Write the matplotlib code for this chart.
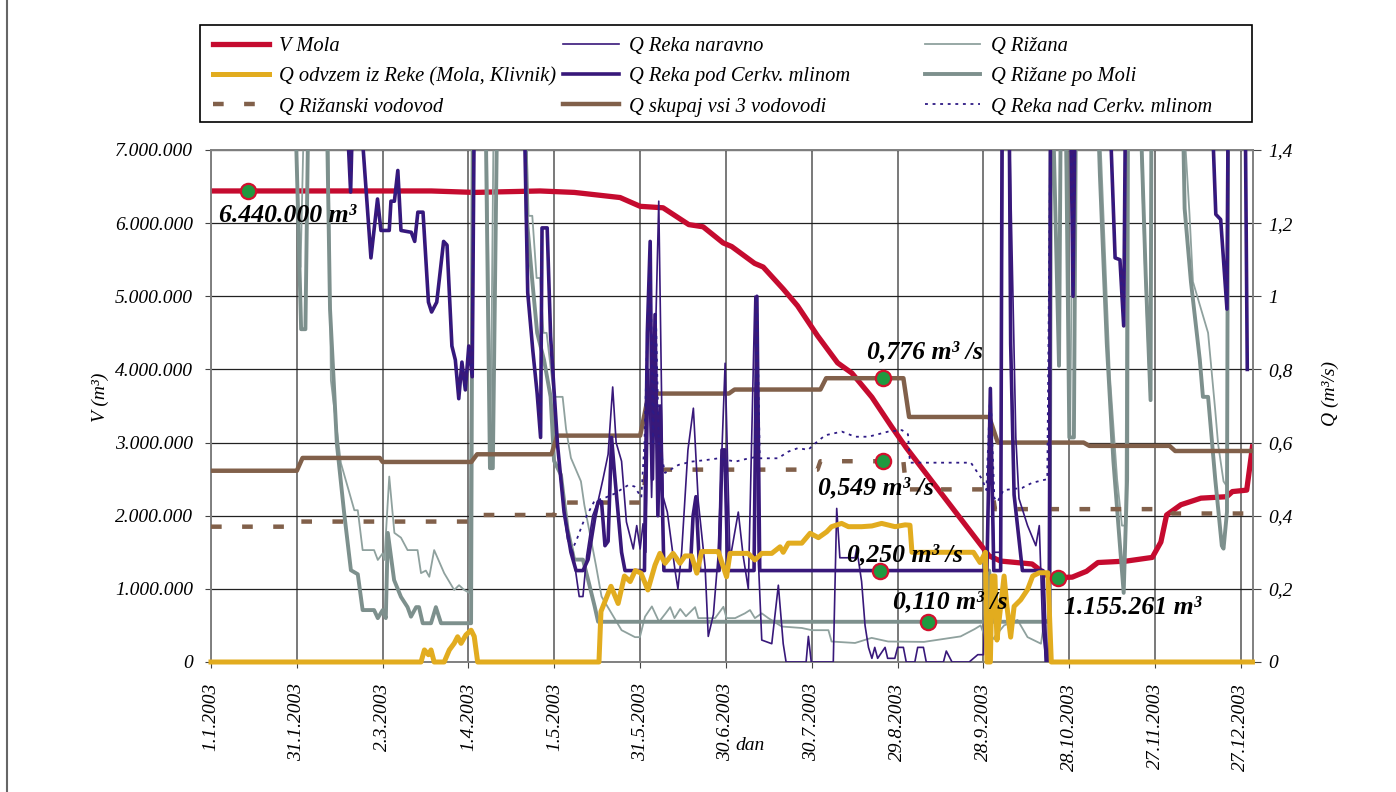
import matplotlib
matplotlib.use("Agg")
import matplotlib.pyplot as plt
from matplotlib.lines import Line2D
from matplotlib.patches import Rectangle

# --- podatki (dan v letu 2003, 0 = 1.1.2003) ---

# prostornina akumulacije Mola (m3)
v_dni = [0, 77, 92, 115, 127, 143, 150, 158, 167, 172, 179, 182, 190, 193, 200, 205, 212, 219, 224, 231,
         238, 243, 272, 276, 287, 293, 296, 301, 306, 310, 320, 329, 332, 334, 339, 346, 355, 357, 362, 364]
v_mola = [6440000, 6440000, 6420000, 6440000, 6420000, 6350000, 6230000, 6210000, 5980000, 5950000,
          5730000, 5680000, 5450000, 5400000, 5100000, 4870000, 4460000, 4090000, 3950000, 3620000,
          3210000, 2930000, 1450000, 1380000, 1340000, 1160000, 1155261, 1160000, 1240000, 1360000,
          1380000, 1430000, 1640000, 2010000, 2150000, 2240000, 2260000, 2330000, 2350000, 2940000]

# odvzem iz Reke (m3/s)
odvzem_dni = [0, 73.4, 74.6, 76, 76.9, 78, 81.5, 83.3, 85, 86.2, 87.4, 89.1, 90.9, 92, 93.2, 135.6, 136.3,
              139.8, 142.3, 144.5, 146.5, 148.3, 150.3, 152.7, 155.2, 156.9, 158.7, 161.5, 163.9, 165.7,
              168, 169.8, 171.5, 177.3, 180.2, 181.4, 187.7, 190.1, 192.5, 196, 198.9, 200, 201.8, 206.5,
              209.4, 212.3, 215.2, 216.9, 220.4, 222.8, 227.4, 231, 234.4, 239.1, 242.6, 244.3, 245, 261.8,
              266.5, 268.8, 270.7, 271.2, 272.4, 273, 274, 274.7, 276, 277.2, 278.2, 279.5, 280.7, 283,
              285.4, 287.2, 289.5, 292.5, 293.7, 364]
odvzem_q = [0, 0, 0.033, 0.02, 0.033, 0, 0, 0.033, 0.051, 0.069, 0.051, 0.074, 0.087, 0.07, 0, 0, 0.138,
            0.207, 0.16, 0.235, 0.22, 0.25, 0.243, 0.197, 0.265, 0.297, 0.27, 0.297, 0.27, 0.29,
            0.29, 0.243, 0.302, 0.302, 0.233, 0.297, 0.297, 0.279, 0.297, 0.297, 0.315, 0.30, 0.325, 0.325,
            0.352, 0.34, 0.356, 0.37, 0.379, 0.37, 0.37, 0.372, 0.379, 0.37, 0.375, 0.374, 0.30, 0.30,
            0.30, 0.272, 0.30, 0, 0, 0.235, 0.235, 0.06, 0.152, 0.235, 0.152, 0.068, 0.152, 0.17,
            0.198, 0.235, 0.244, 0.244, 0, 0]

# Rizanski vodovod
vod_dni = [0, 30, 31, 91, 92, 120, 121, 151, 152, 212, 213, 242, 243, 273, 274, 335, 336, 364]
vod_q = [0.370, 0.370, 0.384, 0.384, 0.402, 0.402, 0.436, 0.436, 0.526, 0.526, 0.549, 0.549,
         0.472, 0.472, 0.418, 0.418, 0.406, 0.406]

# skupaj vsi 3 vodovodi
skupaj_dni = [0, 30, 32, 59, 60, 91, 93, 119, 121, 150, 153, 181, 183, 213, 215, 242, 244, 272, 275,
              305, 307, 335, 337, 364]
skupaj_q = [0.523, 0.523, 0.558, 0.558, 0.547, 0.547, 0.568, 0.568, 0.619, 0.619, 0.734, 0.734,
            0.745, 0.745, 0.776, 0.776, 0.67, 0.67, 0.60, 0.60, 0.591, 0.591, 0.577, 0.577]

# Reka: visoki pretoki (nad 1,4 so izven skale), kjer se vse tri krivulje prekrivajo
reka_zac_dni = [0, 47.5, 48.8, 49.5, 52.3, 55.9, 58.2, 59.4, 62.3, 62.9, 64.1, 65.3, 66.4, 70, 71.2,
                72.3, 74.1, 76, 77.1, 78.9, 81.3, 82.5, 84.2, 85.4, 86.6, 87.7, 88.9, 90.1, 91.3, 92,
                109.5, 110.7, 112.5, 114, 115.2, 115.7, 117.5, 118.7, 121.1, 123.4]
reka_zac_q = [1.5, 1.5, 1.285, 1.5, 1.5, 1.105, 1.266, 1.18, 1.18, 1.26, 1.26, 1.344, 1.18, 1.175, 1.15,
              1.23, 1.23, 0.984, 0.957, 0.984, 1.15, 1.14, 0.864, 0.826, 0.72, 0.82, 0.744, 0.864, 0.78, 1.5,
              1.5, 1.01, 0.85, 0.734, 0.614, 1.187, 1.187, 0.89, 0.596, 0.41]
reka_kon_dni = [293.4, 300.5, 301.3, 302, 314.2, 316, 317.7, 319, 319.6, 349.9, 351.2, 352.9, 355.1,
                355.5, 361.5, 362.2]
reka_kon_q = [1.5, 1.5, 1.0, 1.5, 1.5, 1.105, 1.10, 0.919, 1.5, 1.5, 1.224, 1.21, 0.965, 1.5, 1.5, 0.80]

# Reka pod Cerkvenim mlinom (poletje)
pod_dni = [125.8, 127.6, 130, 131.8, 134.1, 135.3, 136.5, 137.7, 138.8, 140, 141, 143.5, 144.7, 151.5,
           152.5, 153.5, 154.3, 155.2, 156.2, 157, 158.3, 167.5, 168.5, 169.5, 170.8, 177.6, 178.6,
           179.6, 180.6, 189.8, 190.8, 191.8, 271.2, 272.4, 273.6, 276, 276.5, 279, 279.5, 280.7,
           283.6, 290.8, 291.9, 293]
pod_q = [0.30, 0.25, 0.25, 0.28, 0.392, 0.438, 0.438, 0.318, 0.33, 0.614, 0.52, 0.30, 0.25, 0.25,
         0.9, 1.15, 0.5, 0.95, 0.4, 0.7, 0.25, 0.25, 0.40, 0.452, 0.25, 0.25, 0.58,
         0.58, 0.25, 0.25, 1.0, 0.25, 0.25, 0.748, 0.25, 0.25, 1.5, 1.5, 0.87, 0.457,
         0.25, 0.25, 0.0, 0.0]

# Reka naravno (poletje)
naravno_dni = [124.6, 126.5, 128.7, 130, 131.3, 133.4, 135.3, 137, 138.8, 140.4,
               141.6, 143.5, 145.2, 147.6, 148.8, 150, 151, 152, 153, 154,
               156.5, 158, 159.5, 162.2, 163.2, 164.5, 166.7, 168.6, 170.3, 172.7,
               173.8, 175.6, 177.2, 179.7, 181.4, 184.3, 186, 187.8, 190.1, 191.3,
               192.5, 196, 198.3, 200, 201, 208, 208.8, 209.8, 217.5, 218.7,
               219.8, 225.1, 225.7, 227.4, 228.6, 229.8, 231, 232, 233, 235.6,
               236.5, 239, 240, 242, 243, 246, 247, 249, 250, 256,
               257, 259, 265, 268, 270, 271.2, 272.4, 273.6, 276, 276.8,
               279, 281.3, 282.4, 285.4, 288.3, 289.5, 290.7, 291.9, 293]
naravno_q = [0.336, 0.30, 0.179, 0.179, 0.29, 0.40, 0.44, 0.50, 0.568, 0.752,
             0.60, 0.549, 0.383, 0.309, 0.373, 0.309, 0.378, 0.30, 0.8, 0.45,
             1.26, 0.452, 0.41, 0.25, 0.20, 0.30, 0.58, 0.694, 0.44, 0.26,
             0.07, 0.13, 0.285, 0.817, 0.28, 0.41, 0.29, 0.20, 1.0, 0.28,
             0.06, 0.05, 0.21, 0.05, 0.0, 0.0, 0.07, 0.0, 0.0, 0.42,
             0.285, 0.285, 0.31, 0.22, 0.10, 0.04, 0.01, 0.04, 0.01, 0.04,
             0.01, 0.01, 0.04, 0.04, 0.0, 0.0, 0.04, 0.04, 0.0, 0.0,
             0.03, 0.0, 0.0, 0.02, 0.02, 0.30, 0.75, 0.30, 0.30, 1.5,
             1.5, 0.614, 0.447, 0.373, 0.318, 0.373, 0.087, 0.0, 0.0]

# Reka nad Cerkvenim mlinom (poletje)
nad_dni = [125.8, 127.6, 130, 134, 138, 141, 143, 145.9, 148, 150.4,
           151.5, 152.5, 153.5, 154.5, 155.5, 156.5, 158.7, 163.4, 168, 172.8,
           177.4, 183.3, 188, 190.1, 190.8, 191.8, 198.2, 201.7, 205.2, 208.7,
           211.2, 214.7, 220.5, 225.1, 229.8, 236.7, 241.5, 243.6, 244.3, 265.6,
           268, 269.5, 271, 272.4, 273.8, 274.9, 277, 283.5, 287, 292.3]
nad_q = [0.30, 0.33, 0.38, 0.44, 0.45, 0.46, 0.47, 0.484, 0.48, 0.45,
         0.6, 0.9, 1.15, 0.6, 0.95, 0.6, 0.517, 0.539, 0.548, 0.552,
         0.557, 0.548, 0.557, 0.56, 1.0, 0.557, 0.557, 0.575, 0.585, 0.58,
         0.598, 0.62, 0.63, 0.616, 0.616, 0.63, 0.634, 0.623, 0.545, 0.545,
         0.517, 0.50, 0.47, 0.75, 0.448, 0.438, 0.47, 0.476, 0.49, 0.50]

# Rizana
rizana_dni = [0, 29.5, 31.3, 32.5, 41, 41.9, 45.4, 50.1, 51.3, 53,
              57, 58.3, 60, 60.6, 62.3, 64.1, 66.4, 68.7, 72.2, 73.4,
              75.1, 76.3, 78, 81.5, 85, 86.7, 88.5, 90.3, 91.5, 96.3,
              97.7, 98.8, 110, 111, 112.3, 113.8, 115, 116.2, 117.3, 119.9,
              122.9, 124.1, 125.8, 129.3, 130.5, 132.8, 134.6, 136.5, 140, 143.5,
              148.2, 149.9, 151.7, 154.1, 156.6, 158.9, 160.5, 162, 164, 166,
              169.2, 170.3, 176.2, 179.1, 180.2, 183.2, 186.6, 188.4, 190.1, 192.5,
              194.8, 199.5, 206.5, 210, 215.8, 216.9, 225.1, 230.9, 236.7, 249.2,
              262, 266.9, 269, 270.9, 271.8, 273, 277.2, 281.9, 285.4, 290.1,
              291.3, 292.7, 293.2, 294.3, 296.3, 297, 298.5, 300.3, 301.3, 310.5,
              314.2, 316.7, 318.4, 319.6, 320.3, 324.7, 326.5, 328.2, 328.6, 339.9,
              342, 343.2, 348.5, 351, 352, 353.9, 355.1, 355.6, 364]
rizana_q = [1.5, 1.5, 1.08, 1.5, 1.5, 0.77, 0.544, 0.415, 0.415, 0.306,
            0.306, 0.279, 0.297, 0.279, 0.507, 0.353, 0.34, 0.306, 0.306, 0.243,
            0.25, 0.233, 0.306, 0.243, 0.197, 0.21, 0.197, 0.189, 1.5, 1.5,
            0.6, 1.5, 1.5, 1.22, 1.22, 1.05, 1.05, 0.90, 0.90, 0.725,
            0.725, 0.637, 0.558, 0.494, 0.429, 0.336, 0.262, 0.179, 0.133, 0.087,
            0.068, 0.068, 0.124, 0.152, 0.11, 0.133, 0.15, 0.12, 0.145, 0.125,
            0.15, 0.12, 0.12, 0.151, 0.12, 0.12, 0.133, 0.142, 0.12, 0.133,
            0.12, 0.097, 0.093, 0.087, 0.087, 0.056, 0.052, 0.066, 0.056, 0.055,
            0.07, 0.09, 0.10, 0.06, 0.21, 0.06, 0.10, 0.115, 0.068, 0.05,
            0.115, 0.115, 1.5, 1.5, 0.82, 1.5, 1.5, 0.63, 1.5, 1.5,
            0.78, 0.50, 0.373, 0.373, 1.5, 1.5, 1.06, 0.73, 1.5, 1.5,
            1.225, 1.04, 0.90, 0.688, 0.596, 0.494, 0.48, 1.5, 1.5]

# Rizana po Moli
moli_dni = [0, 29.5, 31.5, 33, 34, 40.5, 41.6, 44, 46.5, 48.9,
            51.3, 53, 57, 58.3, 60, 61.1, 61.8, 64, 66.4, 68.7,
            69.9, 71.7, 72.7, 74, 76.9, 78.6, 80.4, 90.9, 91.5, 96,
            97.5, 98.5, 100, 109.9, 110.4, 112.2, 114, 116.4, 118.7, 119.9,
            122.3, 124.6, 126.9, 130, 131.8, 134.1, 135.3, 250.6, 271, 272,
            273, 293.1, 293.6, 294.3, 296.4, 297, 298.8, 300, 301.6, 302.3,
            310, 310.7, 313.1, 315.4, 317.7, 319, 320.2, 320.5, 324.9, 326.7,
            328.4, 328.7, 339.7, 340.3, 342.5, 345.6, 346.7, 348.5, 351, 353.3,
            353.9, 355.1, 355.5, 364]
moli_q = [1.5, 1.5, 0.91, 0.91, 1.5, 1.5, 0.965, 0.596, 0.41, 0.251,
          0.24, 0.142, 0.142, 0.12, 0.142, 0.12, 0.353, 0.224, 0.178, 0.15,
          0.124, 0.15, 0.15, 0.106, 0.106, 0.15, 0.106, 0.106, 1.5, 1.5,
          0.53, 0.53, 1.5, 1.5, 1.21, 1.05, 0.90, 0.826, 0.725, 0.55,
          0.512, 0.364, 0.28, 0.28, 0.225, 0.152, 0.110, 0.110, 0.110, 0.25,
          0.110, 0.110, 1.5, 1.5, 0.81, 1.5, 1.5, 0.614, 0.614, 1.5,
          1.5, 1.33, 0.87, 0.55, 0.318, 0.189, 0.50, 1.5, 1.5, 1.058,
          0.716, 1.5, 1.5, 1.24, 1.04, 0.827, 0.725, 0.725, 0.50, 0.318,
          0.31, 0.41, 1.5, 1.5]

# oznacene vrednosti
v_oznake = [(13, 6440000, '6.440.000 m³', (-29, -25)),
            (296, 1155261, '1.155.261 m³', (6, -30))]
q_oznake = [(235, 0.776, '0,776 m³ /s', (-16, 26)),
            (235, 0.549, '0,549 m³ /s', (-65, -27)),
            (234, 0.250, '0,250 m³ /s', (-33, 16)),
            (250.6, 0.110, '0,110 m³ /s', (-35, 20))]

x_ticks = [0, 30, 60, 90, 120, 150, 180, 210, 240, 270, 300, 330, 360]
x_labels = ['1.1.2003', '31.1.2003', '2.3.2003', '1.4.2003', '1.5.2003', '31.5.2003', '30.6.2003',
            '30.7.2003', '29.8.2003', '28.9.2003', '28.10.2003', '27.11.2003', '27.12.2003']
v_ticks = [0, 1000000, 2000000, 3000000, 4000000, 5000000, 6000000, 7000000]
v_labels = ['0', '1.000.000', '2.000.000', '3.000.000', '4.000.000', '5.000.000', '6.000.000', '7.000.000']
q_ticks = [0, 0.2, 0.4, 0.6, 0.8, 1.0, 1.2, 1.4]
q_labels = ['0', '0,2', '0,4', '0,6', '0,8', '1', '1,2', '1,4']

RDECA = '#c50b2f'
RUMENA = '#e2ac1f'
VIJOLICNA = '#38187a'
SIVA_T = '#8fa19e'
SIVA = '#7d908d'
RJAVA = '#81604a'

plt.rcParams['font.family'] = ['Liberation Serif', 'DejaVu Serif']
plt.rcParams['font.style'] = 'italic'

W, H = 1396, 792
fig = plt.figure(figsize=(W / 100, H / 100), dpi=100)
ax = fig.add_axes([211 / W, 130 / H, 1042 / W, 512 / H])
ax2 = ax.twinx()

ax.plot(v_dni, v_mola, color=RDECA, lw=3.8, solid_joinstyle='round', zorder=3)
ax.set_xlim(0, 364.2)
ax.set_ylim(0, 7000000)
ax.set_yticks(v_ticks)
ax.set_yticklabels(v_labels)
ax.set_xticks(x_ticks)
ax.set_xticklabels(x_labels, rotation=90)
ax.set_axisbelow(True)
ax.grid(axis='y', color='#222222', lw=0.9)
ax.grid(axis='x', color='#555555', lw=1.1)
ax.tick_params(axis='y', length=4, pad=9, labelsize=14, color='#444444')
ax.tick_params(axis='x', length=4, pad=11, labelsize=14, color='#444444')

reka_pod_d = reka_zac_dni + pod_dni + reka_kon_dni
reka_pod_q = reka_zac_q + pod_q + reka_kon_q
naravno_d = reka_zac_dni + naravno_dni + reka_kon_dni
naravno_v = reka_zac_q + naravno_q + reka_kon_q
nad_d = reka_zac_dni + nad_dni + reka_kon_dni
nad_v = reka_zac_q + nad_q + reka_kon_q

h = {}
h['Q Rižana'], = ax2.plot(rizana_dni, rizana_q, color=SIVA_T, lw=1.3, zorder=2)
h['Q Rižane po Moli'], = ax2.plot(moli_dni, moli_q, color=SIVA, lw=2.8, zorder=3)
h['Q skupaj vsi 3 vodovodi'], = ax2.plot(skupaj_dni, skupaj_q, color=RJAVA, lw=3.2, zorder=4)
h['Q Rižanski vodovod'], = ax2.plot(vod_dni, vod_q, color=RJAVA, lw=3.2, ls=(0, (2.4, 4.6)), zorder=4)
h['Q Reka naravno'], = ax2.plot(naravno_d, naravno_v, color=VIJOLICNA, lw=1.2, zorder=5)
h['Q Reka pod Cerkv. mlinom'], = ax2.plot(reka_pod_d, reka_pod_q, color=VIJOLICNA, lw=2.6, zorder=6)
h['Q Reka nad Cerkv. mlinom'], = ax2.plot(nad_d, nad_v, color='#2e1a85', lw=1.3, ls=(0, (1.6, 2.6)), zorder=7)
h['Q odvzem iz Reke (Mola, Klivnik)'], = ax2.plot(odvzem_dni, odvzem_q, color=RUMENA, lw=3.6,
                                                  zorder=8, clip_on=False)
h['V Mola'] = Line2D([], [], color=RDECA, lw=3.8)

ax2.set_ylim(0, 1.4)
ax2.set_yticks(q_ticks)
ax2.set_yticklabels(q_labels)
ax2.tick_params(axis='y', length=6, pad=5, labelsize=14, color='#444444')

for a in (ax, ax2):
    for s in a.spines.values():
        s.set_color('#808080')
        s.set_linewidth(1.2)

# oznake z vrednostmi
for d, v, txt, off in v_oznake:
    ax2.plot(d, v, 'o', transform=ax.transData, ms=11, mfc='#1f9a40', mec='#d2112e', mew=1.6, zorder=10)
    ax2.annotate(txt, xy=(d, v), xycoords=ax.transData, xytext=off, textcoords='offset pixels',
                 ha='left', va='center', fontsize=18.5, fontweight='bold', zorder=11)
for d, q, txt, off in q_oznake:
    ax2.plot(d, q, 'o', ms=11, mfc='#1f9a40', mec='#d2112e', mew=1.6, zorder=10)
    ax2.annotate(txt, xy=(d, q), xytext=off, textcoords='offset pixels',
                 ha='left', va='center', fontsize=18.5, fontweight='bold', zorder=11)

fig.text(100 / W, 1 - 397 / H, 'V (m³)', rotation=90, ha='center', va='center', fontsize=14)
fig.text(1330 / W, 1 - 393 / H, 'Q (m³/s)', rotation=90, ha='center', va='center', fontsize=14)
fig.text(750 / W, 1 - 745 / H, 'dan', ha='center', va='center', fontsize=14)

# legenda v treh stolpcih znotraj enega okvirja
stolpci = [(213, ['V Mola', 'Q odvzem iz Reke (Mola, Klivnik)', 'Q Rižanski vodovod']),
           (563, ['Q Reka naravno', 'Q Reka pod Cerkv. mlinom', 'Q skupaj vsi 3 vodovodi']),
           (925, ['Q Rižana', 'Q Rižane po Moli', 'Q Reka nad Cerkv. mlinom'])]
for x0, imena in stolpci:
    leg = fig.legend([h[n] for n in imena], imena, loc='upper left',
                     bbox_to_anchor=(x0 / W, 1 - 37 / H), frameon=False, fontsize=14.8,
                     handlelength=2.7, handletextpad=0.5, labelspacing=0.52,
                     borderpad=0, borderaxespad=0)
fig.add_artist(Rectangle((200 / W, 1 - 122 / H), 1052 / W, 97 / H, transform=fig.transFigure,
                         fill=False, edgecolor='black', lw=1.2))
fig.add_artist(Line2D([7 / W, 7 / W], [0, 1], transform=fig.transFigure, color='#666666', lw=1.5))

fig.savefig('out.png', dpi=100)
